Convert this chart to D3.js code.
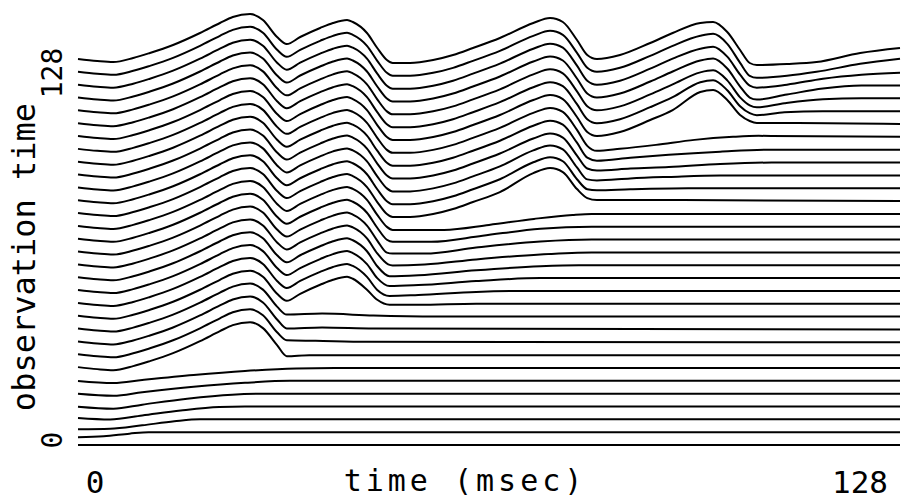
<!DOCTYPE html>
<html>
<head>
<meta charset="utf-8">
<script src="https://cdn.jsdelivr.net/npm/d3@7"></script>
<style>
  body { margin: 0; background: #fff; }
  text { font-family: "DejaVu Sans Mono", monospace; fill: #000; }
</style>
</head>
<body>
<svg id="chart" width="901" height="500"></svg>
<script>
// observation time of every trace (msec), bottom to top
const obsTimes = [0, 4, 8, 12, 16, 20, 24, 28, 32, 36, 40, 44, 48, 52, 56, 60,
                  64, 68, 72, 76, 80, 84, 88, 92, 96, 100, 104, 108, 112, 116, 120, 124];

// full response as seen at the last observation time: [time msec, amplitude a.u.]
const signal = [
  [0, -12], [3, -14], [5.5, -15], [8.6, -11], [11.2, -6], [14.8, 2], [19, 14], [22.1, 24], [24.1, 30], [26.8, 33],
  [28.8, 27], [31, 10], [32.5, 3], [34.6, 10], [37.7, 19], [39.7, 24], [41.9, 27],
  [42.8, 25], [45, 14], [46.6, -1], [48.1, -13], [49, -16], [51.7, -16], [55.3, -13], [58.4, -8], [61.5, -1],
  [65.7, 9], [70.9, 24], [73.5, 29],
  [75.5, 25], [77.7, 7], [79.3, -8], [80.8, -12], [84.4, -8], [89.1, 4], [92.6, 14], [96.9, 24], [98.9, 25],
  [101.1, 15], [103.1, -3], [104.6, -16], [105.7, -18], [110.4, -17], [115, -15], [121.8, -6], [128, -1]
];

// each trace follows the full response up to this time (msec), -1 = not at all
const cuts = [-1, -1, -1, -1, -1, -1, -1,
              26.8, 26.8, 26.8, 26.8,
              41.9, 41.9, 41.9, 41.9, 41.9, 41.9, 41.9, 41.9,
              65.7, 65.7, 65.7, 73.5, 73.5, 73.5,
              92.6, 92.6, 92.6, 92.6, 92.6, 92.6, 128];

// what each trace does after its cut
const tails = [
  [[0, 0], [128, 0]],
  [[0, -5], [4, -4], [8, -1.5], [11, 0], [128, 0]],
  [[0, -10], [5, -9.5], [10, -6], [15, -2], [19, 0], [128, 0]],
  [[0, -11.5], [5, -13], [10, -9], [16, -4], [22, -0.5], [26, 0], [128, 0]],
  [[0, -13], [5.5, -15], [10, -11], [17, -5], [24, -1], [30, 0], [128, 0]],
  [[0, -13], [5.5, -15], [10, -11.5], [18, -6], [26, -2], [33, 0], [128, 0]],
  [[0, -13], [5.5, -15], [10, -12], [18, -7], [26, -3], [34, -0.5], [40, 0], [128, 0]],
  [[28.8, 27], [31, 10], [32.5, -1], [36, 0], [128, 0]],
  [[28.8, 27], [31, 10], [32.5, 2], [37, 1.5], [45, 0.5], [128, 0]],
  [[28.8, 27], [31, 10], [32.5, 1], [38, 2], [46, 1], [128, 0]],
  [[28.8, 27], [31, 10], [32.5, 2], [38, 3], [46, 1], [56, 0], [128, 0]],
  [[42.8, 25], [45, 14], [46.6, 4], [48.5, -1], [53, -1], [62, 0], [128, 0]],
  [[42.8, 25], [45, 14], [46.6, 1], [48.5, -5], [53, -4], [62, -1], [70, 0], [128, 0]],
  [[42.8, 25], [45, 14], [46.6, 0], [48.5, -8], [53, -7], [62, -3], [72, 0], [128, 0]],
  [[42.8, 25], [45, 14], [46.6, -1], [48.5, -11], [53, -10], [62, -5], [72, -1], [78, 0], [128, 0]],
  [[42.8, 25], [45, 14], [46.6, -1], [48.3, -12], [49, -13], [54, -12], [62, -7], [72, -2], [80, 0], [128, 0]],
  [[42.8, 25], [45, 14], [46.6, -1], [48.1, -13], [49, -14], [54, -14], [62, -8], [72, -2], [80, 0], [128, 0]],
  [[42.8, 25], [45, 14], [46.6, -1], [48.1, -13], [49, -15], [55, -15], [63, -9], [72, -2], [80, 0], [128, 0]],
  [[42.8, 25], [45, 14], [46.6, -1], [48.1, -13], [49, -16], [57, -16], [64, -11], [71, -5], [77, -1], [80, 0], [128, 0]],
  [[70.9, 28], [73.5, 33], [75.5, 29], [77.7, 12], [79.3, 3], [80.8, 1], [86, 1], [128, 0]],
  [[70.9, 26], [73.5, 31], [75.5, 27], [77.7, 9], [79.3, -1], [80.8, -2], [86, -1], [95, 0], [128, 0]],
  [[70.9, 25], [73.5, 30], [75.5, 26], [77.7, 8], [79.3, -4], [80.8, -5], [86, -3], [92, -1.5], [100, 0], [128, 0]],
  [[75.5, 25], [77.7, 7], [79.3, -6], [80.8, -8], [86, -6], [92, -4.5], [100, -1.5], [108, 0], [128, 0]],
  [[75.5, 25], [77.7, 7], [79.3, -8], [80.8, -11], [86, -8], [92, -5], [100, -2], [108, 0], [128, 0]],
  [[75.5, 25], [77.7, 7], [79.3, -9], [80.8, -14], [84.4, -12], [90, -8], [96, -3], [102, 0], [106, 1], [128, 0]],
  [[96.9, 32], [98.9, 34], [101.1, 24], [103.1, 9], [104.6, 3], [105.7, 1], [112, 1], [128, 0]],
  [[96.9, 29], [98.9, 31], [101.1, 21], [103.1, 5], [104.6, -2], [105.7, -4], [110, -1], [116, 0], [128, 0]],
  [[96.9, 26], [98.9, 28], [101.1, 18], [103.1, 1], [104.6, -7], [105.7, -9], [110, -5], [116, -1], [122, 0], [128, 0]],
  [[96.9, 25], [98.9, 27], [101.1, 17], [103.1, -1], [104.6, -12], [105.7, -14], [110.4, -9], [116, -3], [122, 0], [128, 0]],
  [[96.9, 24], [98.9, 26], [101.1, 16], [103.1, -2], [104.6, -13], [105.7, -15], [110.4, -12], [116, -6], [122, -2], [128, 0]],
  [[96.9, 24], [98.9, 26], [101.1, 16], [103.1, -3], [104.6, -16], [105.7, -18], [110.4, -16], [115, -12], [121.8, -4], [128, 1]],
  []
];

const xTickLabels = ['0', '128'];
const yTickLabels = ['0', '128'];

const svg = d3.select('#chart');

let x = d3.scaleLinear().domain([0, 128]).range([78, 900]);
let y = d3.scaleLinear().domain([0, 124]).range([445, 47]);
// amplitude (a.u.) expressed in observation-time units for the waterfall offset
let amp = d3.scaleLinear().domain([0, 40]).range([0, 12.46]);

// tick label placement
let xLab = d3.scaleLinear().domain([0, 128]).range([95, 860]);
let yLab = d3.scaleLinear().domain([0, 128]).range([440, 73]);

let traces = obsTimes.map((t, k) => ({
   obs: t,
   pts: signal.filter(d => d[0] <= cuts[k]).concat(tails[k])
}));

let line = d3.line().curve(d3.curveMonotoneX);

svg.append('g')
   .selectAll('path')
   .data(traces)
   .enter()
   .append('path')
   .attr('d', d => line(d.pts.map(p => [x(p[0]), y(d.obs + amp(p[1]))])))
   .style('fill', 'none')
   .style('stroke', '#000')
   .style('stroke-width', 2)
   .style('stroke-linejoin', 'round');

// x axis labels
svg.selectAll('.xtick')
   .data(xTickLabels).enter()
   .append('text').attr('class', 'xtick')
   .attr('x', d => xLab(+d))
   .attr('y', 493)
   .attr('text-anchor', 'middle')
   .style('font-size', '31px')
   .text(d => d);

svg.append('text')
   .attr('x', 465).attr('y', 491)
   .attr('text-anchor', 'middle')
   .style('font-size', '30px')
   .style('letter-spacing', '4px')
   .text('time (msec)');

// y axis labels (rotated)
svg.selectAll('.ytick')
   .data(yTickLabels).enter()
   .append('text').attr('class', 'ytick')
   .attr('transform', d => `translate(62,${yLab(+d)}) rotate(-90)`)
   .attr('text-anchor', 'middle')
   .style('font-size', '28px')
   .text(d => d);

svg.append('text')
   .attr('transform', 'translate(35,257) rotate(-90)')
   .attr('text-anchor', 'middle')
   .style('font-size', '32px')
   .text('observation time');
</script>
</body>
</html>
